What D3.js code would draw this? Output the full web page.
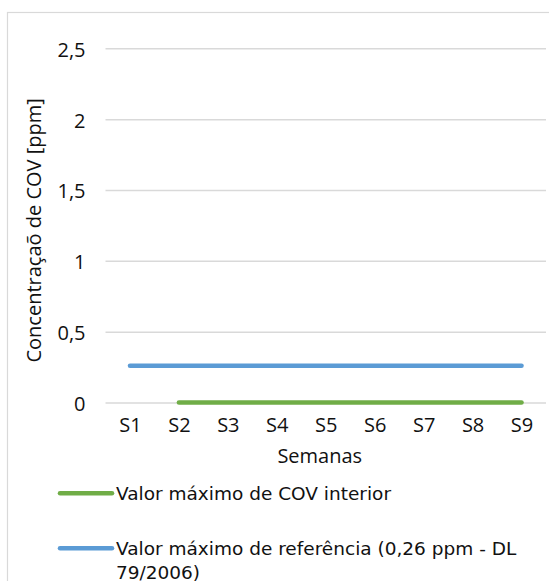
<!DOCTYPE html>
<html>
<head>
<meta charset="utf-8">
<script src="https://cdn.jsdelivr.net/npm/d3@7"></script>
<style>
  html, body { margin: 0; padding: 0; background: #ffffff; }
  svg { display: block; }
</style>
</head>
<body>
<svg id="chart" width="549" height="581"></svg>
<script>
// Weekly VOC concentration (ppm)
const weeks = ["S1", "S2", "S3", "S4", "S5", "S6", "S7", "S8", "S9"];
const covInterior = [null, 0, 0, 0, 0, 0, 0, 0, 0];
const covReferencia = [0.26, 0.26, 0.26, 0.26, 0.26, 0.26, 0.26, 0.26, 0.26];
const yTicks = [0, 0.5, 1, 1.5, 2, 2.5];
const seriesNames = [
  "Valor máximo de COV interior",
  "Valor máximo de referência (0,26 ppm - DL 79/2006)"
];
const seriesColors = ["#70ad47", "#5b9bd5"];

const svg = d3.select("#chart");
const W = 549, H = 581;

const plot = { left: 105.5, right: 546, top: 48.3, bottom: 402.5 };

const ptLocale = d3.formatLocale({ decimal: ",", thousands: ".", grouping: [3], currency: ["", " €"] });
const fmt = ptLocale.format("~g");

const tickFont = "'Open Sans', sans-serif";
const legendFont = "'DejaVu Sans', Verdana, sans-serif";

// outer chart frame
svg.append("rect")
  .attr("x", 7.5).attr("y", 12.5)
  .attr("width", W + 20).attr("height", H + 20)
  .attr("fill", "#ffffff")
  .attr("stroke", "#d9d9d9")
  .attr("stroke-width", 1.2);

const x = d3.scalePoint().domain(weeks).range([plot.left, plot.right]).padding(0.5);
const y = d3.scaleLinear().domain([0, 2.5]).range([plot.bottom, plot.top]);

// horizontal gridlines + y labels
const yAxis = svg.append("g")
  .attr("transform", `translate(${plot.left},0)`)
  .call(d3.axisLeft(y).tickValues(yTicks).tickFormat(fmt)
    .tickSize(-(plot.right - plot.left)).tickPadding(20));
yAxis.select(".domain").remove();
yAxis.selectAll(".tick line").attr("stroke", "#d9d9d9").attr("stroke-width", 1.5);
yAxis.selectAll(".tick text")
  .attr("fill", "#111").attr("dy", "0.4em")
  .style("font-family", tickFont).style("font-size", "20px");

// x labels
const xAxis = svg.append("g")
  .attr("transform", `translate(0,${plot.bottom})`)
  .call(d3.axisBottom(x).tickSize(0).tickPadding(15));
xAxis.select(".domain").remove();
xAxis.selectAll(".tick text")
  .attr("fill", "#111")
  .style("font-family", tickFont).style("font-size", "20px");

// axis titles
svg.append("text")
  .attr("x", (plot.left + plot.right) / 2 - 6)
  .attr("y", 463)
  .attr("text-anchor", "middle")
  .attr("fill", "#111")
  .style("font-family", tickFont).style("font-size", "20px")
  .text("Semanas");

svg.append("text")
  .attr("transform", `translate(41,${(plot.top + plot.bottom) / 2 + 5}) rotate(-90)`)
  .attr("text-anchor", "middle")
  .attr("fill", "#111")
  .style("font-family", tickFont).style("font-size", "20px")
  .text("Concentraçaõ de COV [ppm]");

// series lines
const line = d3.line()
  .defined(d => d.v !== null)
  .x(d => x(d.k))
  .y(d => y(d.v));

[covInterior, covReferencia].forEach((vals, i) => {
  const pts = weeks.map((k, j) => ({ k, v: vals[j] }));
  svg.append("path")
    .datum(pts)
    .attr("d", line)
    .attr("fill", "none")
    .attr("stroke", seriesColors[i])
    .attr("stroke-width", 4.5)
    .attr("stroke-linecap", "round");
});

// legend
const legendRows = [
  { y: 493.3, lines: [seriesNames[0]] },
  { y: 548.3, lines: ["Valor máximo de referência (0,26 ppm - DL", "79/2006)"] }
];
legendRows.forEach((row, i) => {
  const g = svg.append("g");
  g.append("line")
    .attr("x1", 60).attr("x2", 112)
    .attr("y1", row.y).attr("y2", row.y)
    .attr("stroke", seriesColors[i])
    .attr("stroke-width", 4.5)
    .attr("stroke-linecap", "round");
  const t = g.append("text")
    .attr("x", 116).attr("y", row.y + 6.8)
    .attr("fill", "#111")
    .style("font-family", legendFont).style("font-size", "18.5px");
  row.lines.forEach((ln, j) => {
    t.append("tspan").attr("x", 116).attr("dy", j === 0 ? 0 : 23.4).text(ln);
  });
});
</script>
</body>
</html>
